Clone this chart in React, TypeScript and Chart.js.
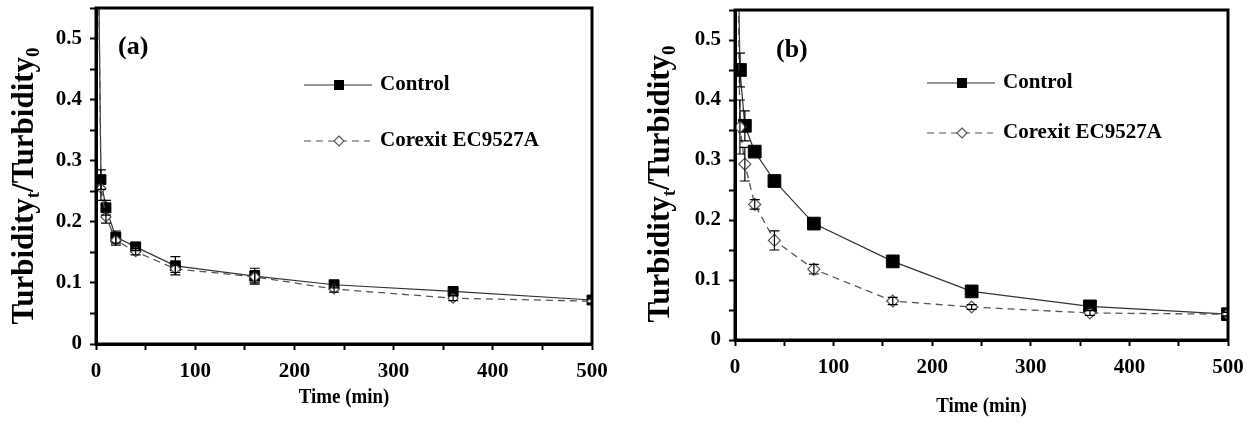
import React, { useEffect, useRef } from 'react';
import { Chart, registerables } from 'chart.js';

Chart.register(...registerables);

// ---- data ----
const times = [0, 5, 10, 20, 40, 80, 160, 240, 360, 500];

const controlA = [1, 0.269, 0.223, 0.175, 0.159, 0.128, 0.111, 0.097, 0.086, 0.072];
const controlAErr = [0, 0.016, 0.012, 0.01, 0.006, 0.015, 0.013, 0.005, 0.007, 0.005];
const corexitA = [1, 0.255, 0.208, 0.17, 0.151, 0.123, 0.11, 0.09, 0.075, 0.07];
const corexitAErr = [0, 0.02, 0.01, 0.008, 0.005, 0.006, 0.01, 0.005, 0.004, 0.004];

const controlB = [1, 0.45, 0.357, 0.314, 0.265, 0.194, 0.131, 0.081, 0.056, 0.043];
const controlBErr = [0, 0.028, 0.025, 0.008, 0.005, 0.005, 0.006, 0.004, 0.004, 0.003];
const corexitB = [1, 0.355, 0.293, 0.226, 0.166, 0.118, 0.065, 0.055, 0.045, 0.043];
const corexitBErr = [0, 0.045, 0.028, 0.008, 0.016, 0.008, 0.006, 0.004, 0.004, 0.003];

const seriesNames = ['Control', 'Corexit EC9527A'];
const panelLabels = ['(a)', '(b)'];
const xTitle = 'Time (min)';

const FONT = '"Liberation Serif", "Times New Roman", serif';

type PanelCfg = {
  label: string;
  control: number[];
  controlErr: number[];
  corexit: number[];
  corexitErr: number[];
  width: number;
  pad: { left: number; top: number; right: number; bottom: number };
  yWidth: number;
  xHeight: number;
  yTitleX: number;
  yTitleY: number;
  xTitleDy: number;
  labelX: number;
  labelY: number;
  legX: number;
  legY1: number;
  legY2: number;
  sq: number;
  dia: number;
};

function makeChart(canvas: HTMLCanvasElement, cfg: PanelCfg) {
  const decor = {
    id: 'decor',
    afterDatasetsDraw(chart: any) {
      const ctx = chart.ctx as CanvasRenderingContext2D;
      const xs = chart.scales.x;
      const ys = chart.scales.y;
      const { left, top, right, bottom } = chart.chartArea;
      ctx.save();
      ctx.beginPath();
      ctx.rect(left, top, right - left, bottom - top);
      ctx.clip();
      ctx.strokeStyle = '#000';
      ctx.lineWidth = 1.2;
      const sets: [number[], number[]][] = [
        [cfg.corexit, cfg.corexitErr],
        [cfg.control, cfg.controlErr],
      ];
      sets.forEach(([v, e]) => {
        times.forEach((t, i) => {
          if (!e[i]) return;
          const x = xs.getPixelForValue(t);
          const y1 = ys.getPixelForValue(v[i] - e[i]);
          const y2 = ys.getPixelForValue(v[i] + e[i]);
          const cap = 5;
          ctx.beginPath();
          ctx.moveTo(x, y1);
          ctx.lineTo(x, y2);
          ctx.moveTo(x - cap, y1);
          ctx.lineTo(x + cap, y1);
          ctx.moveTo(x - cap, y2);
          ctx.lineTo(x + cap, y2);
          ctx.stroke();
        });
      });
      ctx.restore();
    },
    afterDraw(chart: any) {
      const ctx = chart.ctx as CanvasRenderingContext2D;
      const { left, top, right, bottom } = chart.chartArea;
      ctx.save();
      // frame
      ctx.strokeStyle = '#000';
      ctx.lineWidth = 3;
      ctx.strokeRect(left, top, right - left, bottom - top);

      ctx.fillStyle = '#000';
      // x title (slightly condensed like the original)
      ctx.save();
      ctx.translate((left + right) / 2, bottom + cfg.xTitleDy);
      ctx.scale(0.9, 1);
      ctx.font = `bold 21px ${FONT}`;
      ctx.textAlign = 'center';
      ctx.textBaseline = 'middle';
      ctx.fillText(xTitle, 0, 0);
      ctx.restore();

      // y title with subscripts
      ctx.save();
      ctx.translate(cfg.yTitleX, cfg.yTitleY);
      ctx.rotate(-Math.PI / 2);
      ctx.textAlign = 'left';
      ctx.textBaseline = 'alphabetic';
      const big = `bold 31px ${FONT}`;
      const small = `bold 19px ${FONT}`;
      const parts: [string, string, number][] = [
        ['Turbidity', big, 0],
        ['t', small, 6],
        ['/Turbidity', big, 0],
        ['0', small, 6],
      ];
      let total = 0;
      parts.forEach(([s, f]) => {
        ctx.font = f;
        total += ctx.measureText(s).width;
      });
      let cx = -total / 2;
      parts.forEach(([s, f, dy]) => {
        ctx.font = f;
        ctx.fillText(s, cx, 9 + dy);
        cx += ctx.measureText(s).width;
      });
      ctx.restore();

      // panel label
      ctx.font = `bold 26px ${FONT}`;
      ctx.textAlign = 'left';
      ctx.textBaseline = 'middle';
      ctx.fillText(cfg.label, cfg.labelX, cfg.labelY);

      // legend
      const lx0 = cfg.legX;
      const lx1 = cfg.legX + 68;
      const mx = cfg.legX + 35;
      ctx.lineWidth = 1.2;
      ctx.strokeStyle = '#333';
      ctx.beginPath();
      ctx.moveTo(lx0, cfg.legY1);
      ctx.lineTo(lx1, cfg.legY1);
      ctx.stroke();
      ctx.fillStyle = '#000';
      ctx.fillRect(mx - 5, cfg.legY1 - 5, 10, 10);
      ctx.strokeStyle = '#555';
      ctx.setLineDash([7, 5]);
      ctx.beginPath();
      ctx.moveTo(lx0, cfg.legY2);
      ctx.lineTo(lx1 - 2, cfg.legY2);
      ctx.stroke();
      ctx.setLineDash([]);
      ctx.fillStyle = '#fff';
      ctx.beginPath();
      ctx.moveTo(mx, cfg.legY2 - 5);
      ctx.lineTo(mx + 5, cfg.legY2);
      ctx.lineTo(mx, cfg.legY2 + 5);
      ctx.lineTo(mx - 5, cfg.legY2);
      ctx.closePath();
      ctx.fill();
      ctx.stroke();
      ctx.fillStyle = '#000';
      ctx.font = `bold 21px ${FONT}`;
      ctx.textBaseline = 'middle';
      ctx.fillText(seriesNames[0], lx1 + 8, cfg.legY1);
      ctx.fillText(seriesNames[1], lx1 + 8, cfg.legY2);
      ctx.restore();
    },
  };

  const tickFont = { family: FONT, size: 21, weight: 'bold' as const };

  return new Chart(canvas, {
    type: 'line',
    data: {
      datasets: [
        {
          label: seriesNames[1],
          data: times.map((t, i) => ({ x: t, y: cfg.corexit[i] })),
          borderColor: '#555',
          borderWidth: 1.3,
          borderDash: [7, 5],
          pointStyle: 'rectRot',
          pointRadius: cfg.dia,
          pointBackgroundColor: '#fff',
          pointBorderColor: '#555',
          pointBorderWidth: 1.2,
          tension: 0,
        },
        {
          label: seriesNames[0],
          data: times.map((t, i) => ({ x: t, y: cfg.control[i] })),
          borderColor: '#333',
          borderWidth: 1.2,
          pointStyle: 'rect',
          pointRadius: cfg.sq,
          pointBackgroundColor: '#000',
          pointBorderColor: '#000',
          pointBorderWidth: 1,
          tension: 0,
        },
      ],
    },
    options: {
      animation: false,
      responsive: false,
      layout: { padding: cfg.pad },
      plugins: { legend: { display: false }, tooltip: { enabled: false } },
      scales: {
        x: {
          type: 'linear',
          min: 0,
          max: 500,
          ticks: {
            stepSize: 50,
            autoSkip: false,
            maxRotation: 0,
            color: '#000',
            font: tickFont,
            padding: 9,
            callback: (v: any) => (Math.round(v) % 100 === 0 ? String(Math.round(v)) : ''),
          },
          grid: {
            drawOnChartArea: false,
            drawTicks: true,
            tickLength: 6,
            tickColor: '#000',
            tickWidth: 2,
          },
          border: { display: true, color: '#000', width: 3 },
          afterFit: (s: any) => {
            s.height = cfg.xHeight;
            s.paddingLeft = 0;
            s.paddingRight = 0;
          },
        },
        y: {
          type: 'linear',
          min: 0,
          max: 0.55,
          ticks: {
            stepSize: 0.05,
            autoSkip: false,
            color: '#000',
            font: tickFont,
            padding: 8,
            callback: (v: any) => {
              const k = Math.round(v * 100);
              if (k % 10 !== 0) return '';
              return k === 0 ? '0' : (k / 100).toFixed(1);
            },
          },
          grid: {
            drawOnChartArea: false,
            drawTicks: true,
            tickLength: 6,
            tickColor: '#000',
            tickWidth: 2,
          },
          border: { display: true, color: '#000', width: 3 },
          afterFit: (s: any) => {
            s.width = cfg.yWidth;
            s.paddingTop = 0;
            s.paddingBottom = 0;
          },
        },
      },
    },
    plugins: [decor],
  } as any);
}

const panels: PanelCfg[] = [
  {
    label: panelLabels[0],
    control: controlA,
    controlErr: controlAErr,
    corexit: corexitA,
    corexitErr: corexitAErr,
    width: 630,
    pad: { left: 0, top: 7, right: 38, bottom: 0 },
    yWidth: 96,
    xHeight: 81,
    yTitleX: 24,
    yTitleY: 186,
    xTitleDy: 54,
    labelX: 118,
    labelY: 47,
    legX: 304,
    legY1: 85,
    legY2: 141,
    sq: 7,
    dia: 5,
  },
  {
    label: panelLabels[1],
    control: controlB,
    controlErr: controlBErr,
    corexit: corexitB,
    corexitErr: corexitBErr,
    width: 625,
    pad: { left: 0, top: 7, right: 27, bottom: 0 },
    yWidth: 105,
    xHeight: 85,
    yTitleX: 30,
    yTitleY: 184,
    xTitleDy: 67,
    labelX: 146,
    labelY: 50,
    legX: 297,
    legY1: 83,
    legY2: 133,
    sq: 9,
    dia: 6,
  },
];

function Panel({ cfg, left }: { cfg: PanelCfg; left: number }) {
  const ref = useRef<HTMLCanvasElement | null>(null);
  useEffect(() => {
    if (!ref.current) return;
    const c = makeChart(ref.current, cfg);
    return () => c.destroy();
  }, [cfg]);
  return (
    <canvas
      ref={ref}
      width={cfg.width}
      height={425}
      style={{ position: 'absolute', left, top: 0, width: cfg.width, height: 425 }}
    />
  );
}

export default function App() {
  return (
    <div style={{ position: 'absolute', left: 0, top: 0, width: 1255, height: 425, background: '#fff' }}>
      <Panel cfg={panels[0]} left={0} />
      <Panel cfg={panels[1]} left={630} />
    </div>
  );
}
